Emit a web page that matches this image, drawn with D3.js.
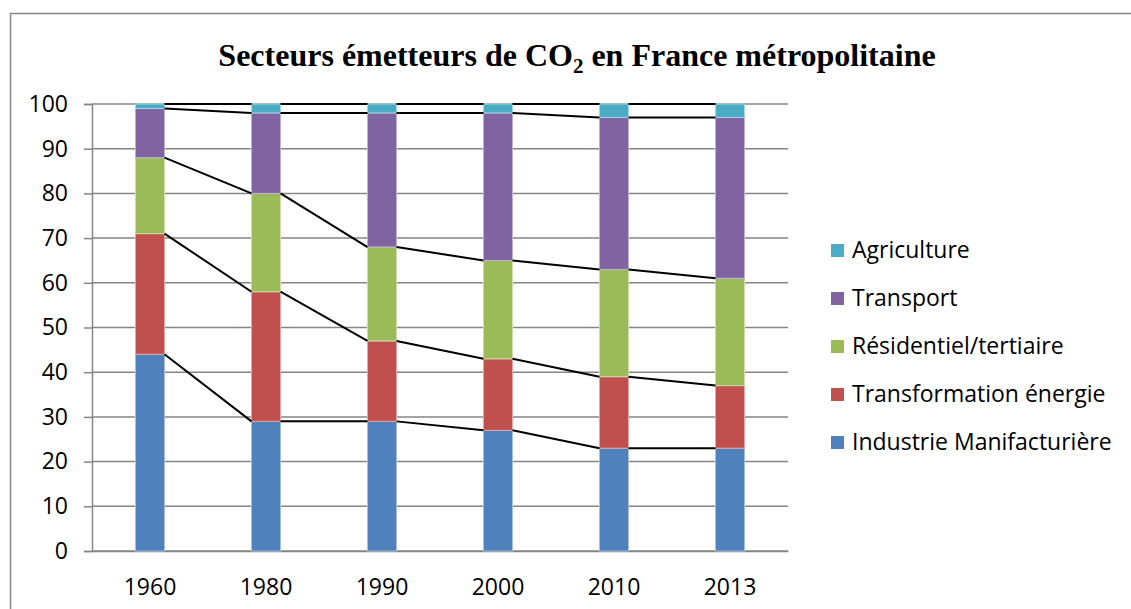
<!DOCTYPE html>
<html>
<head>
<meta charset="utf-8">
<script src="https://cdn.jsdelivr.net/npm/d3@7"></script>
<style>
  body { margin: 0; background: #fff; }
  #chart svg { display: block; }
</style>
</head>
<body>
<div id="chart"></div>
<script>
// Data (percent of emissions per sector)
const years = ["1960", "1980", "1990", "2000", "2010", "2013"];
const sectors = ["Industrie Manifacturière", "Transformation énergie", "Résidentiel/tertiaire", "Transport", "Agriculture"];
const industrie = [44, 29, 29, 27, 23, 23];
const transformation = [27, 29, 18, 16, 16, 14];
const residentiel = [17, 22, 21, 22, 24, 24];
const transport = [11, 18, 30, 33, 34, 36];
const agriculture = [1, 2, 2, 2, 3, 3];
const colors = ["#4f81bd", "#c0504d", "#9bbb59", "#8064a2", "#4bacc6"];
const strokes = ["#a7c0de", "#e0a8a6", "#cdddac", "#bfb1d0", "#a5d5e2"];
const yTicks = [0, 10, 20, 30, 40, 50, 60, 70, 80, 90, 100];

const seriesValues = [industrie, transformation, residentiel, transport, agriculture];
const table = years.map((y, i) => {
  const row = { year: y };
  sectors.forEach((s, k) => (row[s] = seriesValues[k][i]));
  return row;
});

const W = 1131, H = 609;
const margin = { top: 104, left: 92, right: 343, bottom: 58 };
const width = W - margin.left - margin.right;
const height = H - margin.top - margin.bottom;
const labelFont = "'Open Sans', sans-serif";

const root = d3.select("#chart").append("svg").attr("width", W).attr("height", H);

// Outer chart frame
root.append("rect").attr("x", 10.5).attr("y", 13.5).attr("width", W + 10).attr("height", H + 10)
  .attr("fill", "none").attr("stroke", "#868686").attr("stroke-width", 1.5);

// Title with subscript
const title = root.append("text").attr("x", 577).attr("y", 66).attr("text-anchor", "middle")
  .style("font-family", "'Liberation Serif', 'Times New Roman', serif").style("font-weight", "bold").style("font-size", "32px");
title.append("tspan").text("Secteurs émetteurs de CO");
title.append("tspan").attr("dy", 7).style("font-size", "21px").text("2");
title.append("tspan").attr("dy", -7).text(" en France métropolitaine");

const svg = root.append("g").attr("transform", `translate(${margin.left},${margin.top})`);

const x = d3.scaleBand().domain(years).range([0, width]).paddingInner(0.75).paddingOuter(0.375);
const y = d3.scaleLinear().domain([0, 100]).range([height, 0]);

// Gridlines
svg.append("g").selectAll("line").data(yTicks).enter().append("line")
  .attr("x1", 0).attr("x2", width).attr("y1", (d) => y(d)).attr("y2", (d) => y(d))
  .attr("stroke", "#868686").attr("stroke-width", 1.5);

// Y axis
const yAxis = svg.append("g").call(d3.axisLeft(y).tickValues(yTicks).tickSize(8).tickPadding(16));
yAxis.select(".domain").attr("stroke", "#868686").attr("stroke-width", 1.5);
yAxis.selectAll(".tick line").attr("stroke", "#868686").attr("stroke-width", 1.5);
yAxis.selectAll("text").style("font-family", labelFont).style("font-size", "23px").attr("fill", "#000");

// X axis
const xAxis = svg.append("g").attr("transform", `translate(0,${height})`).call(d3.axisBottom(x).tickSize(0).tickPadding(28));
xAxis.select(".domain").attr("stroke", "#868686").attr("stroke-width", 1.5);
xAxis.selectAll("text").style("font-family", labelFont).style("font-size", "23px").attr("fill", "#000");

// Stacked bars
const stacked = d3.stack().keys(sectors)(table);
const layers = svg.selectAll(".layer").data(stacked).enter().append("g").attr("class", "layer")
  .attr("fill", (d, i) => colors[i]).attr("stroke", (d, i) => strokes[i]).attr("stroke-width", 1);
layers.selectAll("rect").data((d) => d).enter().append("rect")
  .attr("x", (d) => x(d.data.year))
  .attr("y", (d) => y(d[1]))
  .attr("width", x.bandwidth())
  .attr("height", (d) => y(d[0]) - y(d[1]));

// Series lines joining the top of each segment between neighbouring bars
const lineGen = d3.line().x((p) => p[0]).y((p) => p[1]);
stacked.forEach((layer) => {
  for (let i = 0; i < layer.length - 1; i++) {
    const a = layer[i], b = layer[i + 1];
    svg.append("path")
      .attr("d", lineGen([[x(a.data.year) + x.bandwidth(), y(a[1])], [x(b.data.year), y(b[1])]]))
      .attr("fill", "none").attr("stroke", "#000").attr("stroke-width", 2);
  }
});

// Legend (reverse order, Agriculture on top)
const legend = root.append("g").attr("transform", "translate(831,250)");
const items = legend.selectAll("g").data(sectors.slice().reverse()).enter().append("g")
  .attr("transform", (d, i) => `translate(0,${i * 48})`);
items.append("rect").attr("x", 0).attr("y", -6).attr("width", 13).attr("height", 13)
  .attr("fill", (d) => colors[sectors.indexOf(d)]);
items.append("text").attr("x", 21).attr("y", 0).attr("dy", "0.35em")
  .style("font-family", labelFont).style("font-size", "23px").text((d) => d);
</script>
</body>
</html>
